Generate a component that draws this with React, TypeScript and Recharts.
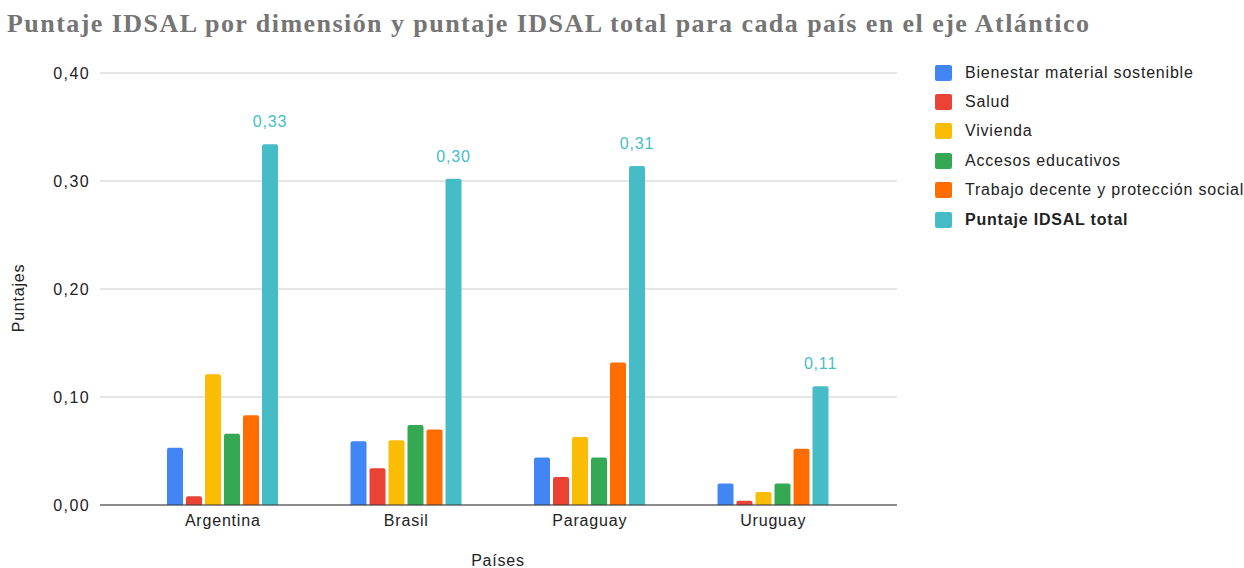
import { BarChart, Bar, XAxis, YAxis, CartesianGrid, LabelList } from "recharts";

const paises = ["Argentina", "Brasil", "Paraguay", "Uruguay"];
const bienestar = [0.053, 0.059, 0.044, 0.02];
const salud = [0.008, 0.034, 0.026, 0.004];
const vivienda = [0.121, 0.06, 0.063, 0.012];
const accesos = [0.066, 0.074, 0.044, 0.02];
const trabajo = [0.083, 0.07, 0.132, 0.052];
const total = [0.334, 0.302, 0.314, 0.11];
const yTicks = [0, 0.1, 0.2, 0.3, 0.4];

const SERIES = [
  { key: "bienestar", name: "Bienestar material sostenible", color: "#4285F4" },
  { key: "salud", name: "Salud", color: "#EA4335" },
  { key: "vivienda", name: "Vivienda", color: "#FBBC04" },
  { key: "accesos", name: "Accesos educativos", color: "#34A853" },
  { key: "trabajo", name: "Trabajo decente y protección social", color: "#FF6D01" },
  { key: "total", name: "Puntaje IDSAL total", color: "#46BDC6" },
];

const data = paises.map((p, i) => ({
  pais: p,
  bienestar: bienestar[i],
  salud: salud[i],
  vivienda: vivienda[i],
  accesos: accesos[i],
  trabajo: trabajo[i],
  total: total[i],
}));

const FONT = '"Liberation Sans", Arial, sans-serif';
const fmt = (v: number) => v.toFixed(2).replace(".", ",");

export default function App() {
  return (
    <div style={{ position: "absolute", left: 0, top: 0, width: 1244, height: 568, background: "#fff", fontFamily: FONT }}>
      <BarChart
        width={1244}
        height={568}
        data={data}
        margin={{ top: 73, right: 347, bottom: 33, left: 0 }}
        barSize={16}
        barGap={3}
        style={{ position: "absolute", left: 0, top: 0 }}
      >
        <CartesianGrid vertical={false} stroke="#cccccc" />
        <XAxis
          dataKey="pais"
          height={30}
          padding={{ left: 31, right: 32 }}
          stroke="#333"
          tickLine={false}
          tickSize={0}
          tickMargin={10}
          tick={{ fill: "#222", fontSize: 16, fontFamily: FONT, letterSpacing: 0.8 }}
        />
        <YAxis
          width={100}
          domain={[0, 0.4]}
          ticks={yTicks}
          axisLine={false}
          tickLine={false}
          tickSize={0}
          tickMargin={10}
          tickFormatter={fmt}
          tick={{ fill: "#222", fontSize: 16, fontFamily: FONT, letterSpacing: 1.4 }}
        />
        {SERIES.map((s) => (
          <Bar key={s.key} dataKey={s.key} name={s.name} fill={s.color} radius={[2, 2, 0, 0]} isAnimationActive={false}>
            {s.key === "total" && (
              <LabelList
                dataKey="total"
                position="top"
                offset={17}
                formatter={(v: any) => fmt(Number(v))}
                fill="#46BDC6"
                fontSize={16}
                fontFamily={FONT}
                letterSpacing={0.8}
              />
            )}
          </Bar>
        ))}
      </BarChart>
      <svg width={1244} height={568} style={{ position: "absolute", left: 0, top: 0, pointerEvents: "none" }}>
        <text
          x={7}
          y={32}
          fontFamily='"Liberation Serif", "DejaVu Serif", serif'
          fontWeight="bold"
          fontSize={26}
          letterSpacing={1.45}
          fill="#757575"
        >
          Puntaje IDSAL por dimensión y puntaje IDSAL total para cada país en el eje Atlántico
        </text>
        <text x={498} y={566} textAnchor="middle" fontSize={16} letterSpacing={0.8} fill="#222" fontFamily={FONT}>
          Países
        </text>
        <text
          x={24}
          y={298}
          textAnchor="middle"
          fontSize={16}
          letterSpacing={0.8}
          fill="#222"
          fontFamily={FONT}
          transform="rotate(-90 24 298)"
        >
          Puntajes
        </text>
      </svg>
      <div style={{ position: "absolute", left: 935, top: 58 }}>
        {SERIES.map((s, i) => (
          <div key={s.key} style={{ display: "flex", alignItems: "center", height: 29.4 }}>
            <span style={{ width: 17, height: 16, borderRadius: 2, background: s.color, marginRight: 13 }} />
            <span style={{ fontSize: 16, letterSpacing: 0.8, color: "#222", whiteSpace: "nowrap", fontWeight: i === 5 ? "bold" : "normal" }}>
              {s.name}
            </span>
          </div>
        ))}
      </div>
    </div>
  );
}
